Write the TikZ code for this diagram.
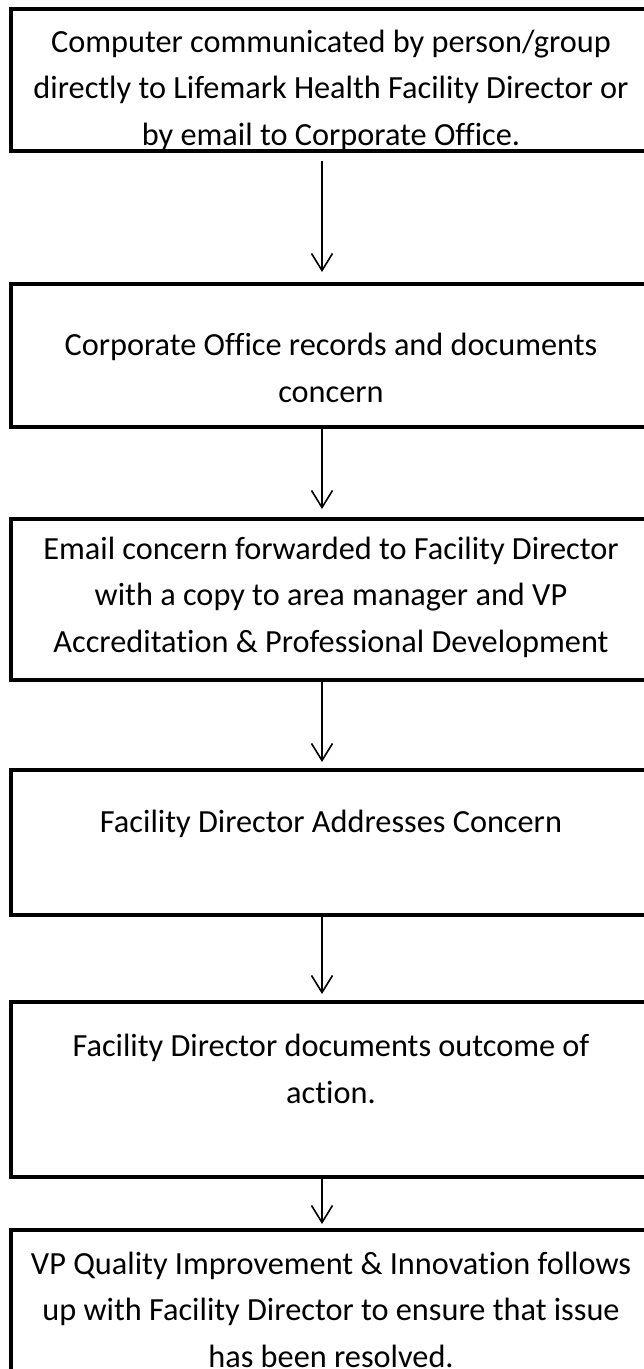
\documentclass[tikz,border=0pt]{standalone}
\usepackage{fontspec}
\setmainfont[Ligatures={NoCommon}]{Carlito}
\usetikzlibrary{arrows.meta}
\begin{document}
\begin{tikzpicture}[x=1pt,y=-1pt,
  boxnode/.style={draw,line width=4pt,rectangle,minimum width=689pt,anchor=north west,inner sep=0pt,outer sep=0pt},
  txt/.style={align=center,anchor=base,inner sep=0pt,font=\fontsize{32.3}{46.5}\selectfont},
  arr/.style={line width=1.8pt,-{Straight Barb[length=17pt,width=21pt,line width=1.6pt]}}]
\useasboundingbox (0,0) rectangle (644,1369);
\fill[white] (0,0) rectangle (644,1369);
\coordinate (ax) at (322,0);
\node[boxnode,minimum height=142pt] (b1) at (11,9) {};
\node[boxnode,minimum height=143pt] (b2) at (11,284) {};
\node[boxnode,minimum height=161pt] (b3) at (11,519) {};
\node[boxnode,minimum height=145pt] (b4) at (11,770) {};
\node[boxnode,minimum height=175pt] (b5) at (11,1002) {};
\node[boxnode,minimum height=170pt] (b6) at (11,1230) {};
\begin{scope}
\clip (b1.north west) rectangle (b1.south east);
\node[txt] (t1) at (331,145) {Computer communicated by person/group\\directly to Lifemark Health Facility Director or\\by email to Corporate Office.};
\end{scope}
\node[txt] (t2) at (331,402) {Corporate Office records and documents\\concern};
\node[txt] (t3) at (331,652) {Email concern forwarded to Facility Director\\with a copy to area manager and VP\\Accreditation \& Professional Development};
\node[txt] (t4) at (331,832) {Facility Director Addresses Concern};
\node[txt] (t5) at (331,1103) {Facility Director documents outcome of\\action.};
\node[txt] (t6) at (331,1367) {VP Quality Improvement \& Innovation follows\\up with Facility Director to ensure that issue\\has been resolved.};
\draw[arr,shorten <=10pt,shorten >=12pt] (b1.south -| ax) -- (b2.north -| ax);
\draw[arr,shorten <=2pt,shorten >=10pt] (b2.south -| ax) -- (b3.north -| ax);
\draw[arr,shorten <=2pt,shorten >=8pt] (b3.south -| ax) -- (b4.north -| ax);
\draw[arr,shorten <=2pt,shorten >=8pt] (b4.south -| ax) -- (b5.north -| ax);
\draw[arr,shorten <=2pt,shorten >=6pt] (b5.south -| ax) -- (b6.north -| ax);
\end{tikzpicture}
\end{document}
